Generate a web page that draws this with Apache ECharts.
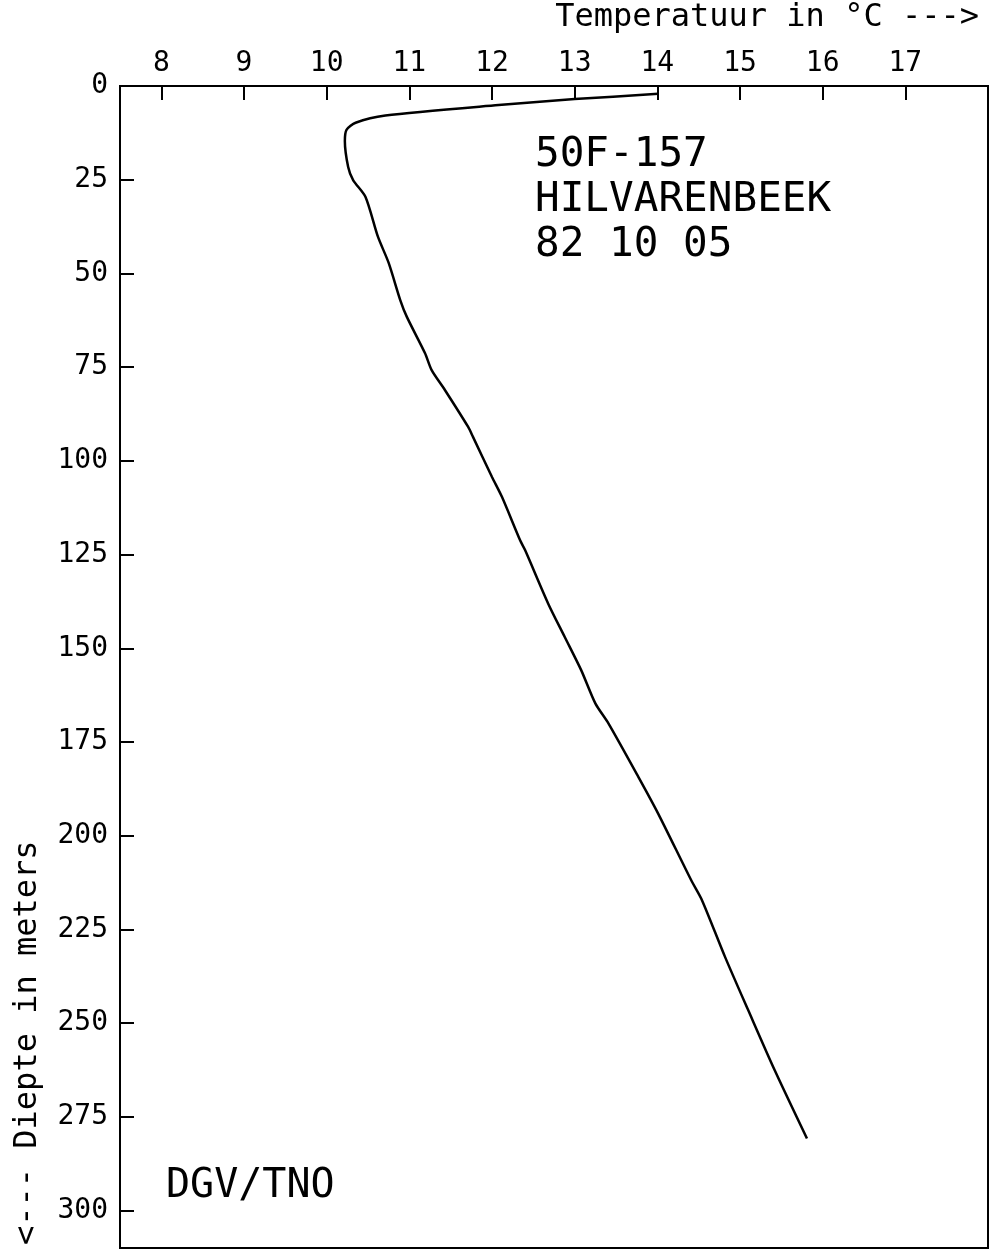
<!DOCTYPE html>
<html>
<head>
<meta charset="utf-8">
<script src="https://cdn.jsdelivr.net/npm/echarts@6/dist/echarts.min.js"></script>
<style>
html,body{margin:0;padding:0;background:#fff;}
#chart{width:990px;height:1253px;}
</style>
</head>
<body>
<div id="chart"></div>
<script>
// Temperature profile (°C) versus depth (m)
const depth = [2.1, 3.5, 5.1, 7.9, 9.8, 11.7, 14.7, 21.6, 25.1, 29.6, 40.2, 47.2, 57.1, 61.6, 71.3, 75.8, 81.1, 90.9, 93.6, 104.3, 109.6, 121.2, 123.8, 138.1, 147.0, 155.9, 164.7, 170.1, 184.3, 194.1, 211.9, 217.2, 232.4, 246.6, 262.6, 280.8];
const temperature = [14.01, 13.0, 12.08, 10.71, 10.35, 10.24, 10.22, 10.26, 10.32, 10.47, 10.62, 10.75, 10.89, 10.97, 11.19, 11.27, 11.43, 11.71, 11.77, 12.0, 12.12, 12.34, 12.40, 12.68, 12.88, 13.08, 13.25, 13.41, 13.77, 14.01, 14.41, 14.54, 14.82, 15.10, 15.42, 15.81];
const tempTicks = [8, 9, 10, 11, 12, 13, 14, 15, 16, 17];
const depthTicks = [0, 25, 50, 75, 100, 125, 150, 175, 200, 225, 250, 275, 300];
const xName = 'Temperatuur in °C --->';
const yName = '<--- Diepte in meters';
const infoLines = ['50F-157', 'HILVARENBEEK', '82 10 05'];
const credit = 'DGV/TNO';

const FONT = '"DejaVu Sans Mono", "Liberation Mono", monospace';
const chart = echarts.init(document.getElementById('chart'), null, {renderer: 'canvas'});
const data = depth.map((d, i) => [temperature[i], d]);

chart.setOption({
  animation: false,
  backgroundColor: '#fff',
  grid: {left: 120, top: 86, right: 2, bottom: 5, show: true, borderColor: '#000', borderWidth: 2, backgroundColor: 'transparent'},
  xAxis: {
    type: 'value', position: 'top', min: 7.5, max: 18,
    name: xName, nameLocation: 'end', nameGap: -9, nameMoveOverlap: false,
    nameTextStyle: {fontFamily: FONT, fontSize: 32, color: '#000', align: 'right', verticalAlign: 'bottom', padding: [0, 0, 52, 0]},
    axisLine: {show: true, lineStyle: {color: '#000', width: 2}},
    axisTick: {show: true, inside: true, length: 14, lineStyle: {color: '#000', width: 2}, customValues: tempTicks},
    axisLabel: {show: true, margin: 8, fontFamily: FONT, fontSize: 28, color: '#000', customValues: tempTicks},
    splitLine: {show: false}
  },
  yAxis: {
    type: 'value', inverse: true, min: 0, max: 310,
    name: yName, nameLocation: 'end', nameGap: -3, nameRotate: 90, nameMoveOverlap: false,
    nameTextStyle: {fontFamily: FONT, fontSize: 32, color: '#000', align: 'left', verticalAlign: 'bottom', padding: [0, 0, 76, 0]},
    axisLine: {show: true, lineStyle: {color: '#000', width: 2}},
    axisTick: {show: true, inside: true, length: 14, lineStyle: {color: '#000', width: 2}, customValues: depthTicks},
    axisLabel: {show: true, margin: 12, fontFamily: FONT, fontSize: 28, color: '#000', customValues: depthTicks},
    splitLine: {show: false}
  },
  graphic: [
    {type: 'text', left: 535, top: 133, style: {text: infoLines.join('\n'), font: '41px ' + FONT, fill: '#000', lineHeight: 45}},
    {type: 'text', left: 166, top: 1167, style: {text: credit, font: '40px ' + FONT, fill: '#000'}}
  ],
  series: [{
    type: 'line', data: data, showSymbol: false, symbol: 'none', smooth: 0.25,
    lineStyle: {color: '#000', width: 2.5}, clip: false
  }]
});
</script>
</body>
</html>
